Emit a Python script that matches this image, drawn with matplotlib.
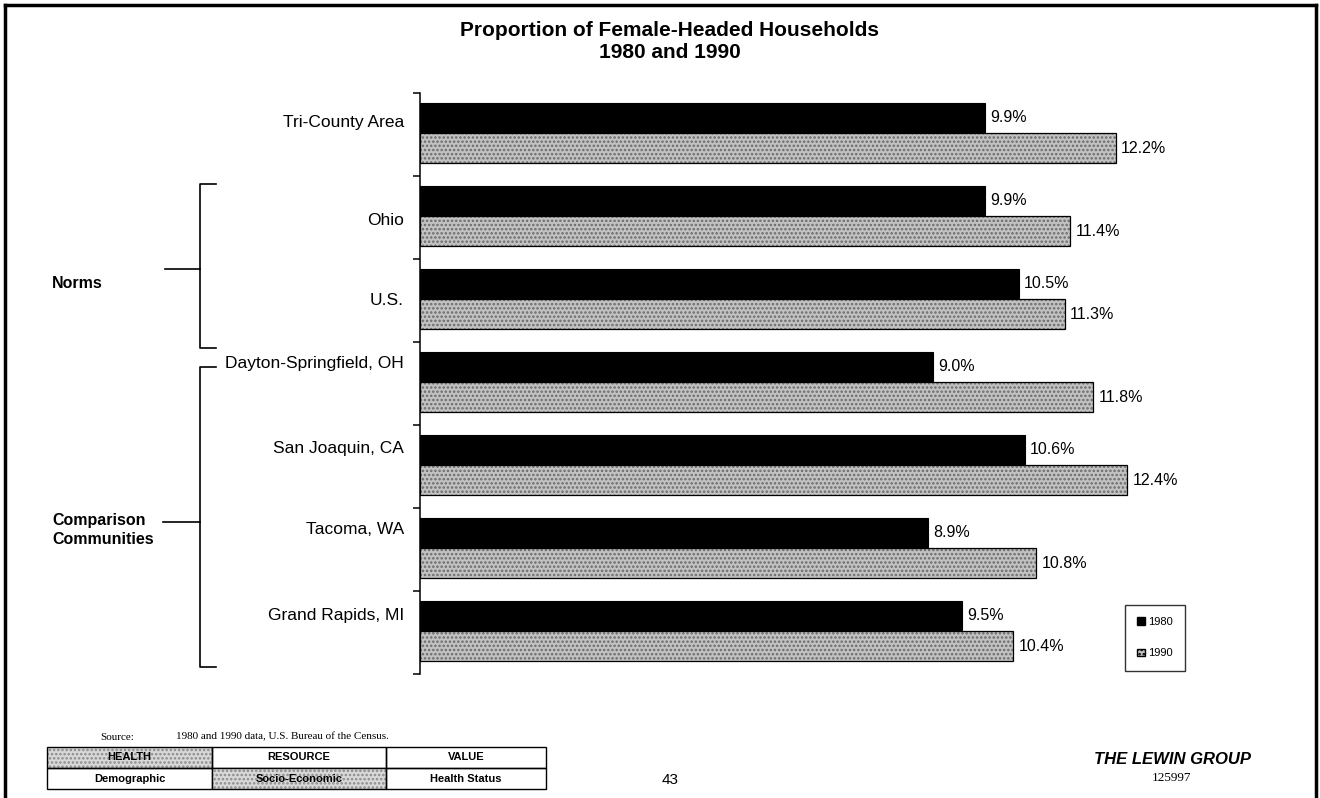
import matplotlib
matplotlib.use("Agg")
import matplotlib.pyplot as plt
from matplotlib.patches import Rectangle, Patch
from matplotlib.lines import Line2D
import matplotlib.transforms as mtransforms

plt.rcParams['font.family'] = ['Liberation Sans', 'DejaVu Sans']
plt.rcParams['hatch.linewidth'] = 1.2

categories = ["Tri-County Area", "Ohio", "U.S.", "Dayton-Springfield, OH",
              "San Joaquin, CA", "Tacoma, WA", "Grand Rapids, MI"]
pct_1980 = [9.9, 9.9, 10.5, 9.0, 10.6, 8.9, 9.5]
pct_1990 = [12.2, 11.4, 11.3, 11.8, 12.4, 10.8, 10.4]
series_labels = ["1980", "1990"]

# vertical nudges of the category labels (in row units)
label_nudge = [-0.15, 0.04, 0.0, -0.24, -0.22, -0.24, -0.21]

W, H = 1320, 798
fig = plt.figure(figsize=(W / 100, H / 100), dpi=100)
fig.patch.set_facecolor("white")


def fx(px):
    return px / W


def fy(py):
    return 1 - py / H


ax_left, ax_top, ax_bot = 420, 93, 674
xmax = 15.0
px_per_unit = 57.05
ax = fig.add_axes([fx(ax_left), fy(ax_bot), xmax * px_per_unit / W, (ax_bot - ax_top) / H])
ax.set_xlim(0, xmax)
n = len(categories)
ax.set_ylim(n - 0.5, -0.5)

bar_h = 0.355
off = 0.185
gray_face = "#c2c2c2"
hatch_col = "#6a6a6a"

for i, (a, b) in enumerate(zip(pct_1980, pct_1990)):
    y1 = i - off - 0.02
    y2 = i + off - 0.02
    ax.barh(y1, a, height=bar_h, color="black", edgecolor="black", linewidth=0.8)
    ax.barh(y2, b, height=bar_h, color=gray_face, edgecolor=hatch_col,
            hatch="....", linewidth=0)
    ax.barh(y2, b, height=bar_h, fill=False, edgecolor="black", linewidth=0.9)
    ax.text(a + 0.09, y1, f"{a:.1f}%", va="center", ha="left", fontsize=11.5)
    ax.text(b + 0.09, y2, f"{b:.1f}%", va="center", ha="left", fontsize=11.5)

# axis styling: only the category axis line with separator ticks
for s in ["top", "right", "bottom"]:
    ax.spines[s].set_visible(False)
ax.spines["left"].set_linewidth(1.1)
ax.set_xticks([])
ax.set_yticks([i - 0.5 for i in range(n + 1)])
ax.set_yticklabels([])
ax.tick_params(axis="y", direction="out", length=5, width=1.1)

trans = mtransforms.blended_transform_factory(fig.transFigure, ax.transData)
for i, cat in enumerate(categories):
    ax.text(fx(404), i + label_nudge[i], cat, transform=trans, ha="right",
            va="center", fontsize=12.5)

# title
fig.text(fx(670), fy(30), "Proportion of Female-Headed Households", ha="center",
         va="center", fontsize=15, fontweight="bold")
fig.text(fx(670), fy(52), "1980 and 1990", ha="center", va="center",
         fontsize=15, fontweight="bold")


def fline(xs, ys, lw=1.2):
    fig.add_artist(Line2D([fx(x) for x in xs], [fy(y) for y in ys],
                          color="black", linewidth=lw,
                          transform=fig.transFigure))


# group brackets
fline([216, 200, 200, 216], [184, 184, 348, 348])
fline([165, 200], [269, 269])
fig.text(fx(52), fy(283), "Norms", ha="left", va="center", fontsize=11.5,
         fontweight="bold")

fline([216, 200, 200, 216], [367, 367, 667, 667])
fline([163, 200], [522, 522])
fig.text(fx(52), fy(521), "Comparison", ha="left", va="center", fontsize=11.5,
         fontweight="bold")
fig.text(fx(52), fy(539), "Communities", ha="left", va="center", fontsize=11.5,
         fontweight="bold")

# legend
handles = [Patch(facecolor="black", edgecolor="black"),
           Patch(facecolor=gray_face, edgecolor="black", hatch="....")]
leg = ax.legend(handles, series_labels, loc="upper left",
                bbox_to_anchor=(fx(1125), fy(605)), bbox_transform=fig.transFigure,
                fontsize=8, frameon=True, fancybox=False, handlelength=0.7,
                handleheight=0.7, handletextpad=0.3, labelspacing=1.9,
                borderpad=1.1, borderaxespad=0)
leg.get_frame().set_edgecolor("black")
leg.get_frame().set_linewidth(1.0)

# page border
fline([5, 5], [798, 5], lw=2.5)
fline([5, 1316], [5, 5], lw=2.5)
fline([1316, 1316], [5, 798], lw=2.5)

# source note
fig.text(fx(100), fy(737), "Source:", ha="left", va="center", fontsize=8,
         family="Liberation Serif")
fig.text(fx(176), fy(737), "1980 and 1990 data, U.S. Bureau of the Census.",
         ha="left", va="center", fontsize=8, family="Liberation Serif")

# category table at the foot
col_edges = [47, 212, 386, 546]
row_edges = [747, 768, 789]
table_text = [["HEALTH", "RESOURCE", "VALUE"],
              ["Demographic", "Socio-Economic", "Health Status"]]
shaded = {(0, 0), (1, 1)}
for r in range(2):
    for c in range(3):
        x0, x1 = col_edges[c], col_edges[c + 1]
        y0, y1 = row_edges[r], row_edges[r + 1]
        if (r, c) in shaded:
            fig.add_artist(Rectangle((fx(x0), fy(y1)), fx(x1) - fx(x0),
                                     fy(y0) - fy(y1), transform=fig.transFigure,
                                     facecolor="#d8d8d8", edgecolor="#8a8a8a",
                                     hatch="....", linewidth=0))
        fig.add_artist(Rectangle((fx(x0), fy(y1)), fx(x1) - fx(x0),
                                 fy(y0) - fy(y1), transform=fig.transFigure,
                                 fill=False, edgecolor="black", linewidth=1.0))
        fig.text(fx((x0 + x1) / 2), fy((y0 + y1) / 2), table_text[r][c],
                 ha="center", va="center", fontsize=8, fontweight="bold")

fig.text(fx(670), fy(780), "43", ha="center", va="center", fontsize=11)
fig.text(fx(1172), fy(760), "THE LEWIN GROUP", ha="center", va="center",
         fontsize=12, fontweight="bold", fontstyle="italic")
fig.text(fx(1172), fy(778), "125997", ha="center", va="center", fontsize=9.5,
         family="Liberation Serif")

fig.savefig("out.png", dpi=100, facecolor="white")
